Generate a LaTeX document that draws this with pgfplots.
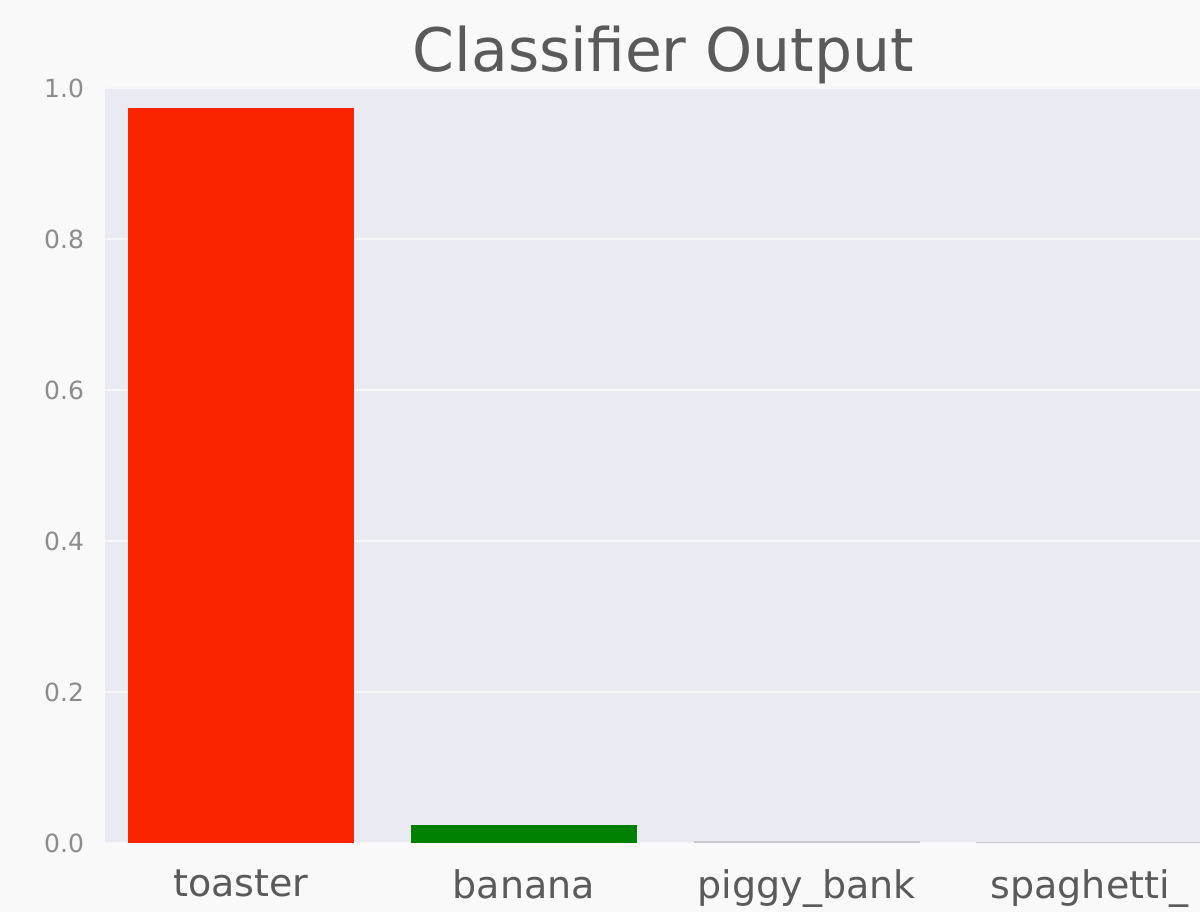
\documentclass[border=0pt]{standalone}
\usepackage{fontspec}
\setmainfont{DejaVu Sans}
\usepackage{pgfplots}
\pgfplotsset{compat=1.18}
\usetikzlibrary{backgrounds}

\definecolor{seabg}{RGB}{234,234,242}
\definecolor{figbg}{RGB}{249,249,250}
\definecolor{barred}{RGB}{250,36,0}
\definecolor{bargreen}{RGB}{0,128,0}
\definecolor{bargray}{RGB}{200,200,205}
\definecolor{tickgray}{RGB}{140,140,140}
\definecolor{labgray}{RGB}{90,90,90}

\begin{document}
\begin{tikzpicture}
  \begin{axis}[
    scale only axis,
    width=547.5pt, height=377.5pt,
    xmin=-0.48, xmax=3.39, ymin=0, ymax=1.0,
    axis background/.style={fill=seabg},
    axis line style={draw=none},
    major tick length=0pt,
    ymajorgrids, grid style={white!55!seabg, line width=1pt},
    ytick={0,0.2,0.4,0.6,0.8,1.0},
    /pgf/number format/assume math mode=true,
    yticklabel style={/pgf/number format/fixed, /pgf/number format/fixed zerofill,
      /pgf/number format/precision=1,
      font=\fontsize{12.5}{12.5}\selectfont, text=tickgray, xshift=-7pt},
    xtick={0,1,2,3},
    xticklabels={toaster,banana,piggy\_bank,spaghetti\_},
    xticklabel style={font=\fontsize{19}{19}\selectfont, text=labgray, yshift=-10pt},
    title={Classifier Output},
    title style={font=\fontsize{30}{30}\selectfont, text=labgray,
      at={(axis description cs:0.51,1)}, anchor=base, yshift=2pt},
    ybar, bar width=0.8, bar shift=0pt,
  ]
    \addplot[fill=barred, draw=none] coordinates {(0,0.973)};
    \addplot[fill=bargreen, draw=none] coordinates {(1,0.024)};
    \addplot[fill=bargray, draw=none] coordinates {(2,0.002)};
    \addplot[fill=bargray, draw=none] coordinates {(3,0.001)};
  \end{axis}
  \pgfresetboundingbox
  \begin{scope}[on background layer]
    \fill[figbg] ([shift={(-52.5pt,-34.5pt)}]current axis.south west)
      rectangle ([shift={(0pt,44pt)}]current axis.north east);
  \end{scope}
\end{tikzpicture}
\end{document}
